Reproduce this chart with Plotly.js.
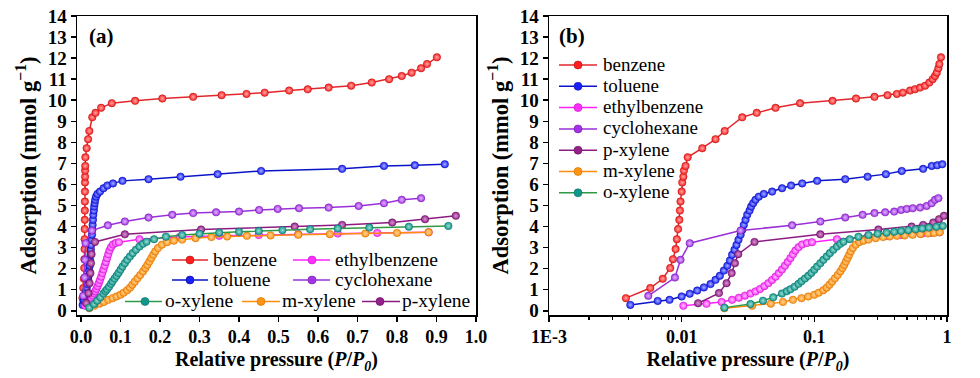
<!DOCTYPE html>
<html>
<head>
<meta charset="utf-8">
<script src="https://cdn.plot.ly/plotly-3.0.1.min.js"></script>
<style>html,body{margin:0;padding:0;background:#fff;}#chart{width:980px;height:378px;}</style>
</head>
<body>
<div id="chart"></div>
<script>
// ---------------- data (relative pressure P/P0, adsorption mmol/g) ----------------
const benzeneP = [0.0038,0.0058,0.0072,0.0082,0.0086,0.0090,0.0092,0.0094,0.0096,0.0097,0.0098,0.0100,0.0101,0.0103,0.0104,0.0107,0.0111,0.0143,0.018,0.0211,0.0286,0.0368,0.051,0.078,0.137,0.206,0.284,0.356,0.419,0.465,0.527,0.574,0.627,0.684,0.736,0.780,0.812,0.837,0.861,0.876,0.901];
const benzeneQ = [0.60,1.08,1.52,2.03,2.45,2.93,3.40,3.88,4.32,4.76,5.19,5.66,6.09,6.37,6.66,6.88,7.29,7.72,8.15,8.54,9.19,9.40,9.64,9.86,9.97,10.08,10.16,10.24,10.30,10.36,10.46,10.52,10.60,10.69,10.84,11.00,11.15,11.31,11.52,11.72,12.04];

const tolueneP = [0.0041,0.0066,0.0081,0.0100,0.0115,0.0131,0.0147,0.0165,0.0180,0.0194,0.0208,0.0221,0.0231,0.0240,0.0250,0.0259,0.0268,0.0278,0.0286,0.0294,0.0303,0.0312,0.0325,0.0334,0.0346,0.0360,0.0381,0.0416,0.0481,0.0571,0.0668,0.0810,0.105,0.171,0.252,0.346,0.456,0.661,0.767,0.845,0.921];
const tolueneQ = [0.28,0.47,0.52,0.68,0.81,0.96,1.11,1.27,1.47,1.66,1.91,2.14,2.39,2.66,2.90,3.13,3.37,3.61,3.84,4.08,4.32,4.56,4.76,4.95,5.11,5.27,5.42,5.55,5.66,5.82,5.95,6.05,6.17,6.25,6.37,6.49,6.64,6.74,6.88,6.91,6.96];

const ethylbenzeneP = [0.0103,0.0154,0.020,0.024,0.027,0.030,0.033,0.036,0.039,0.042,0.045,0.048,0.051,0.054,0.057,0.060,0.063,0.066,0.069,0.072,0.076,0.081,0.088,0.096,0.148,0.25,0.35,0.45,0.55,0.65,0.75,0.88];
const ethylbenzeneQ = [0.24,0.33,0.42,0.52,0.62,0.72,0.82,0.92,1.04,1.17,1.31,1.46,1.62,1.79,1.96,2.14,2.32,2.50,2.68,2.86,3.02,3.15,3.22,3.26,3.40,3.50,3.56,3.60,3.64,3.67,3.70,3.73];

const cyclohexaneP = [0.0056,0.0089,0.0098,0.0115,0.0278,0.068,0.111,0.171,0.231,0.284,0.342,0.400,0.451,0.498,0.552,0.627,0.703,0.767,0.812,0.861];
const cyclohexaneQ = [0.71,1.58,2.42,3.21,3.81,4.06,4.24,4.43,4.56,4.64,4.68,4.71,4.79,4.84,4.87,4.90,4.98,5.11,5.27,5.35];

const pxyleneP = [0.0133,0.0191,0.0218,0.0238,0.0252,0.0267,0.0354,0.111,0.304,0.541,0.661,0.788,0.871,0.949];
const pxyleneQ = [0.36,0.84,1.31,1.79,2.26,2.69,3.27,3.63,3.86,4.00,4.08,4.19,4.35,4.51];

const mxyleneP = [0.021,0.034,0.047,0.058,0.069,0.080,0.090,0.100,0.108,0.117,0.124,0.130,0.136,0.143,0.150,0.157,0.163,0.168,0.173,0.178,0.183,0.188,0.195,0.205,0.218,0.235,0.256,0.29,0.33,0.37,0.42,0.48,0.55,0.63,0.72,0.80,0.88];
const mxyleneQ = [0.12,0.24,0.34,0.42,0.52,0.60,0.68,0.76,0.86,0.98,1.10,1.24,1.38,1.54,1.70,1.87,2.03,2.18,2.34,2.50,2.66,2.82,2.98,3.14,3.26,3.33,3.38,3.45,3.50,3.53,3.56,3.58,3.61,3.64,3.67,3.70,3.73];

const oxyleneP = [0.021,0.033,0.041,0.049,0.057,0.062,0.066,0.071,0.076,0.080,0.085,0.090,0.095,0.100,0.105,0.111,0.117,0.124,0.131,0.139,0.148,0.157,0.166,0.185,0.215,0.256,0.30,0.35,0.40,0.45,0.51,0.58,0.65,0.73,0.83,0.93];
const oxyleneQ = [0.15,0.32,0.48,0.64,0.82,0.93,1.02,1.14,1.28,1.40,1.53,1.66,1.80,1.95,2.10,2.26,2.42,2.58,2.74,2.90,3.05,3.18,3.28,3.40,3.52,3.60,3.66,3.71,3.75,3.79,3.83,3.87,3.91,3.95,3.99,4.03];

const xTicksA = [0,0.1,0.2,0.3,0.4,0.5,0.6,0.7,0.8,0.9,1.0];
const xTicksB = [0.001,0.01,0.1,1];
const xTickTextB = ['1E-3','0.01','0.1','1'];

// ---------------- styles ----------------
const series = [
  {name:'benzene',      p:benzeneP,      q:benzeneQ,      line:'#e3262b', mk:'#ff1e1e', hi:'#ffa8a8', ol:'#b01010'},
  {name:'toluene',      p:tolueneP,      q:tolueneQ,      line:'#0a14c8', mk:'#1820ff', hi:'#a8b0ff', ol:'#0a0a9a'},
  {name:'ethylbenzene', p:ethylbenzeneP, q:ethylbenzeneQ, line:'#ff22ff', mk:'#ff30ff', hi:'#ffc4ff', ol:'#c010c0'},
  {name:'cyclohexane',  p:cyclohexaneP,  q:cyclohexaneQ,  line:'#9b2fd8', mk:'#a532e6', hi:'#dcb8ff', ol:'#7018a8'},
  {name:'p-xylene',     p:pxyleneP,      q:pxyleneQ,      line:'#8c1c82', mk:'#94208a', hi:'#d898d0', ol:'#5e0c58'},
  {name:'m-xylene',     p:mxyleneP,      q:mxyleneQ,      line:'#ff8c0a', mk:'#ff9412', hi:'#ffd49c', ol:'#d06a00'},
  {name:'o-xylene',     p:oxyleneP,      q:oxyleneQ,      line:'#2f9a45', mk:'#10978c', hi:'#9edcd4', ol:'#0a6e66'}
];

const FONT = 'Liberation Serif, Times New Roman, serif';
const traces = [];
series.forEach(s => {
  ['x','x2'].forEach((xa, i) => {
    traces.push({
      type:'scatter', mode:'lines+markers', name:s.name, showlegend:false,
      x:s.p, y:s.q, xaxis:xa, yaxis: i===0 ? 'y' : 'y2',
      line:{color:s.line, width:1.5},
      marker:{symbol:'circle', size:7.5, color:s.mk,
              gradient:{type:'radial', color:s.hi},
              line:{color:s.ol, width:0.5}}
    });
  });
});

// pixel -> paper helpers (layout only)
const W = 980, T = 16, B = 315;
const PX = px => px / W;
const PY = py => (B - py) / (B - T);

const shapes = [];
const annotations = [];
function legendItem(s, x0, x1, xm, xt, y, size) {
  shapes.push({type:'line', xref:'paper', yref:'paper', x0:PX(x0), x1:PX(x1), y0:PY(y), y1:PY(y),
               line:{color:s.line, width:1.5}});
  shapes.push({type:'circle', xref:'paper', yref:'paper', xsizemode:'pixel', ysizemode:'pixel',
               xanchor:PX(xm), yanchor:PY(y), x0:-4, x1:4, y0:-4, y1:4,
               fillcolor:s.mk, line:{color:s.ol, width:0.6}});
  annotations.push({xref:'paper', yref:'paper', x:PX(xt), y:PY(y - 1), xanchor:'left', yanchor:'middle',
                    text:s.name, showarrow:false, font:{family:FONT, size:size, color:'#000'}});
}
const S = Object.fromEntries(series.map(s => [s.name, s]));
// panel (a) legend
legendItem(S['benzene'],      172, 208, 190, 211, 260, 19.5);
legendItem(S['ethylbenzene'], 293, 330, 312, 333, 260, 19.5);
legendItem(S['toluene'],      172, 208, 190, 211, 280, 19.5);
legendItem(S['cyclohexane'],  293, 330, 312, 333, 280, 19.5);
legendItem(S['o-xylene'],     125, 162, 145, 163, 301.5, 19.5);
legendItem(S['m-xylene'],     242, 280, 261, 280, 301.5, 19.5);
legendItem(S['p-xylene'],     362, 400, 380, 400, 301.5, 19.5);
// panel (b) legend
['benzene','toluene','ethylbenzene','cyclohexane','p-xylene','m-xylene','o-xylene'].forEach((n, i) => {
  legendItem(S[n], 559, 597, 578, 601, 65 + i * 21.3, 19);
});
annotations.push({xref:'paper', yref:'paper', x:PX(87), y:PY(36), xanchor:'left', yanchor:'middle',
  text:'<b>(a)</b>', showarrow:false, font:{family:FONT, size:21, color:'#000'}});
annotations.push({xref:'paper', yref:'paper', x:PX(557), y:PY(36), xanchor:'left', yanchor:'middle',
  text:'<b>(b)</b>', showarrow:false, font:{family:FONT, size:21, color:'#000'}});

const xTickFont = {family:FONT, size:18, color:'#000', weight:'bold'};
const yTickFont = {family:FONT, size:19, color:'#000', weight:'bold'};
const titleFont = {family:FONT, size:20, color:'#000', weight:'bold'};
const yTitleFont = {family:FONT, size:22.5, color:'#000', weight:'bold'};
const axBase = {showline:true, linecolor:'#000', linewidth:1.5, mirror:true, ticks:'outside',
                ticklen:5, tickwidth:1.5, tickcolor:'#000', showgrid:false, zeroline:false,
                automargin:false};
const xTitle = {text:'Relative pressure (<i>P</i>/<i>P<sub>0</sub></i>)', font:titleFont, standoff:6};
const yTitle = {text:'Adsorption (mmol g<sup>−1</sup>)', font:yTitleFont, standoff:5};

const layout = {
  width:980, height:378, paper_bgcolor:'#fff', plot_bgcolor:'#fff',
  margin:{l:0, r:0, t:T, b:378 - B},
  showlegend:false,
  xaxis: Object.assign({}, axBase, {domain:[77/W, 476/W], range:[-0.0101, 1.0], tickvals:xTicksA,
          tickformat:'.1f', tickfont:xTickFont, title:xTitle, anchor:'y'}),
  yaxis: Object.assign({}, axBase, {domain:[0,1], range:[-0.2, 14], dtick:1, tickfont:yTickFont, title:yTitle, anchor:'x'}),
  xaxis2: Object.assign({}, axBase, {domain:[549/W, 947/W], type:'log', range:[-3, 0],
          tickvals:xTicksB, ticktext:xTickTextB, tickfont:xTickFont, title:xTitle, anchor:'y2',
          minor:{ticks:'outside', ticklen:3, tickwidth:1.2, tickcolor:'#000', dtick:'D1', showgrid:false}}),
  yaxis2: Object.assign({}, axBase, {domain:[0,1], range:[-0.2, 14], dtick:1, tickfont:yTickFont, title:yTitle, anchor:'x2'}),
  shapes:shapes, annotations:annotations
};

Plotly.newPlot('chart', traces, layout, {displayModeBar:false, staticPlot:true});
</script>
</body>
</html>
